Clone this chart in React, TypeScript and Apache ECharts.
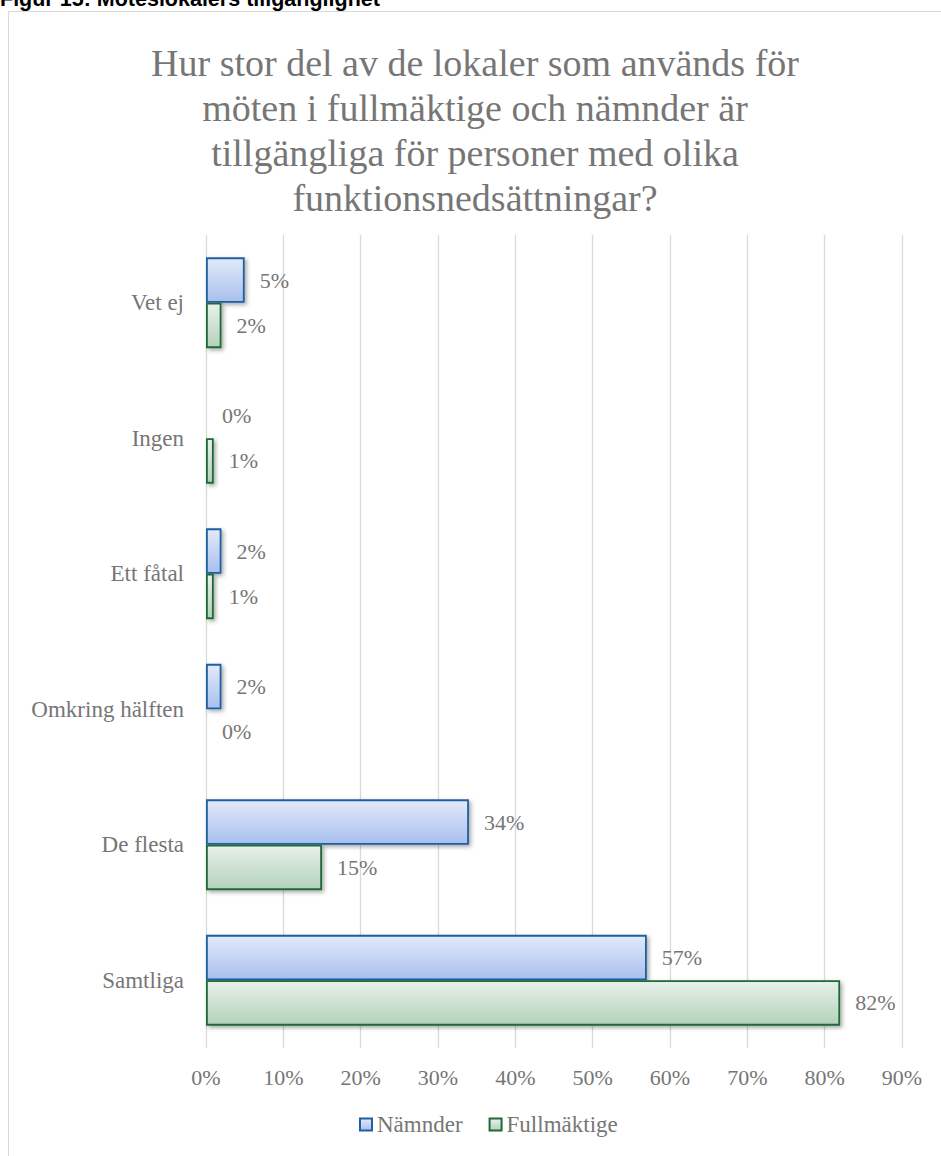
import React, { useEffect, useRef } from "react";
import * as echarts from "echarts";

const categories = ["Vet ej", "Ingen", "Ett fåtal", "Omkring hälften", "De flesta", "Samtliga"];
const namnder = [5, 0, 2, 2, 34, 57];
const fullmaktige = [2, 1, 1, 0, 15, 82];
const seriesNames = ["Nämnder", "Fullmäktige"];
const titleText = "Hur stor del av de lokaler som används för\nmöten i fullmäktige och nämnder är\ntillgängliga för personer med olika\nfunktionsnedsättningar?";
const headerText = "Figur 15: Möteslokalers tillgänglighet";

const SERIF = "'Liberation Serif', 'Times New Roman', serif";
const GREY = "#767676";

export default function App() {
  const ref = useRef<HTMLDivElement>(null);
  useEffect(() => {
    if (!ref.current) return;
    const chart = echarts.init(ref.current, null, { renderer: "svg" });
    const blueFill = new echarts.graphic.LinearGradient(0, 0, 0, 1, [
      { offset: 0, color: "#e2eaf9" },
      { offset: 1, color: "#a8bfee" },
    ]);
    const greenFill = new echarts.graphic.LinearGradient(0, 0, 0, 1, [
      { offset: 0, color: "#e8f1ea" },
      { offset: 1, color: "#b3d2ba" },
    ]);
    const labelCfg = {
      show: true,
      position: "right",
      distance: 15,
      color: GREY,
      fontSize: 22,
      fontFamily: SERIF,
      formatter: "{c}%",
    };
    chart.setOption({
      animation: false,
      backgroundColor: "#ffffff",
      graphic: [
        {
          type: "rect",
          shape: { x: 8.5, y: 11.5, width: 950, height: 1200 },
          style: { fill: "#ffffff", stroke: "#d9d9d9", lineWidth: 1 },
          z: -10,
        },
        {
          type: "text",
          left: 0,
          top: -12,
          style: {
            text: headerText,
            font: "bold 21.5px 'Liberation Sans', Arial, sans-serif",
            fill: "#000000",
            lineHeight: 21,
          },
        },
      ],
      title: {
        text: titleText,
        left: 470,
        textAlign: "center",
        top: 35,
        textStyle: {
          fontFamily: SERIF,
          fontSize: 38,
          fontWeight: "normal",
          color: GREY,
          lineHeight: 45,
        },
      },
      legend: {
        bottom: 15,
        left: 354,
        data: seriesNames,
        icon: "rect",
        itemWidth: 12,
        itemHeight: 12,
        itemGap: 26,
        textStyle: { fontFamily: SERIF, fontSize: 23, color: GREY },
      },
      grid: { left: 206, right: 39, top: 235, height: 813 },
      xAxis: {
        type: "value",
        min: 0,
        max: 90,
        interval: 10,
        axisLine: { show: false },
        axisTick: { show: false },
        splitLine: { lineStyle: { color: "#d9d9d9", width: 1.3 } },
        axisLabel: {
          formatter: "{value}%",
          fontFamily: SERIF,
          fontSize: 22,
          color: GREY,
          margin: 18,
        },
      },
      yAxis: {
        type: "category",
        inverse: true,
        data: categories,
        axisLine: { show: false },
        axisTick: { show: false },
        axisLabel: { fontFamily: SERIF, fontSize: 23, color: GREY, margin: 22 },
      },
      series: [
        {
          name: seriesNames[0],
          type: "bar",
          data: namnder,
          barGap: "0%",
          barCategoryGap: "33%",
          itemStyle: {
            color: blueFill,
            borderColor: "#1f5fa3",
            borderWidth: 1.8,
            shadowColor: "rgba(0,0,0,0.35)",
            shadowBlur: 4,
            shadowOffsetX: 2,
            shadowOffsetY: 2,
          },
          label: labelCfg,
        },
        {
          name: seriesNames[1],
          type: "bar",
          data: fullmaktige,
          barGap: "0%",
          barCategoryGap: "33%",
          itemStyle: {
            color: greenFill,
            borderColor: "#1d6b36",
            borderWidth: 1.8,
            shadowColor: "rgba(0,0,0,0.35)",
            shadowBlur: 4,
            shadowOffsetX: 2,
            shadowOffsetY: 2,
          },
          label: labelCfg,
        },
      ],
    });
    return () => chart.dispose();
  }, []);
  return (
    <div
      ref={ref}
      style={{ position: "absolute", left: 0, top: 0, width: 941, height: 1156 }}
    />
  );
}
